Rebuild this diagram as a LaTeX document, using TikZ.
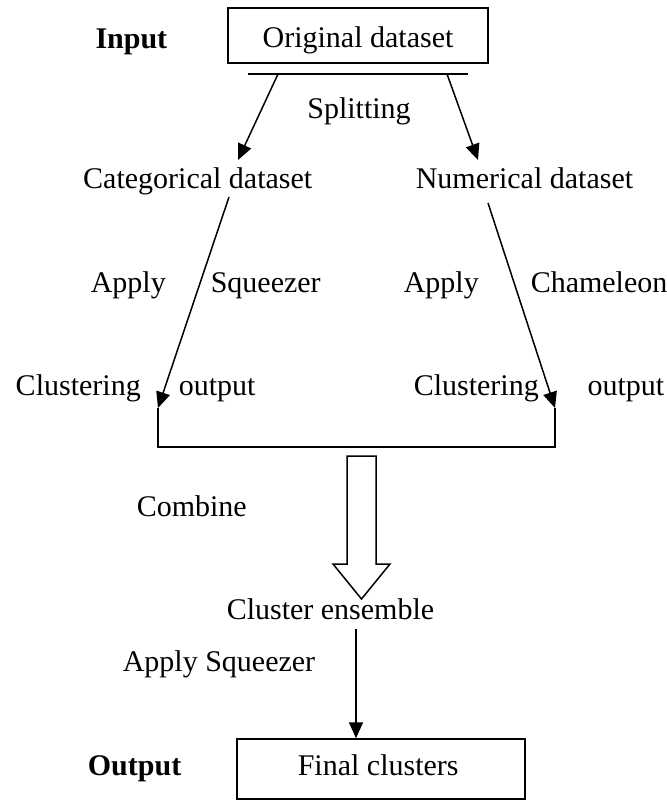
\documentclass[tikz,border=0pt]{standalone}
\usepackage{fontspec}
\setmainfont{Liberation Serif}
\usetikzlibrary{arrows.meta}
\begin{document}
\begin{tikzpicture}[x=1pt,y=-1pt,line width=1.5pt,
  lbl/.style={font=\fontsize{30}{36}\selectfont,inner sep=0pt},
  boldlbl/.style={lbl,font=\fontsize{30}{36}\selectfont\bfseries},
  bx/.style={draw,lbl,line width=1.5pt},
  arr/.style={-{Triangle[length=16pt,width=14pt]}}]
\useasboundingbox (0,0) rectangle (667,801);

% boxes
\node[bx,minimum width=260pt,minimum height=55pt] (orig) at (358,35.5) {};
\node[lbl,anchor=base] (origt) at (358,47) {Original dataset};
\node[bx,minimum width=288pt,minimum height=60pt] (fin) at (381,769) {};
\node[lbl,anchor=base west] (fint) at (297,775) {Final clusters};

% labels
\node[boldlbl,anchor=base east] (inp) at (168,48) {Input};
\node[boldlbl,anchor=base east] (outp) at (182,775) {Output};
\node[lbl,anchor=base] (split) at (359,118) {Splitting};
\node[lbl,anchor=base east] (cat) at (313,188) {Categorical dataset};
\node[lbl,anchor=base west] (num) at (415,188) {Numerical dataset};
\node[lbl,anchor=base west] (ap1) at (90,292) {Apply};
\node[lbl,anchor=base west] (sq1) at (210,292) {Squeezer};
\node[lbl,anchor=base west] (ap2) at (403,292) {Apply};
\node[lbl,anchor=base west] (cham) at (530,292) {Chameleon};
\node[lbl,anchor=base west] (cl1) at (15,395) {Clustering};
\node[lbl,anchor=base west] (ou1) at (178,395) {output};
\node[lbl,anchor=base west] (cl2) at (413,395) {Clustering};
\node[lbl,anchor=base east] (ou2) at (665,395) {output};
\node[lbl,anchor=base west] (comb) at (136,516) {Combine};
\node[lbl,anchor=base west] (ens) at (226,619) {Cluster ensemble};
\node[lbl,anchor=base west] (apsq) at (122,671) {Apply Squeezer};

% splitting bar and arrows
\coordinate (ul) at (248,74);
\coordinate (ur) at (468,74);
\draw (ul) -- (ur);
\coordinate (s1) at (278,74);
\coordinate (s2) at (447,74);
\coordinate (st1) at (238,160);
\coordinate (st2) at (478,160);
\draw[arr] (s1) -- (st1);
\draw[arr] (s2) -- (st2);

% clustering arrows
\coordinate (c1) at (229,197);
\coordinate (c2) at (488,203);
\coordinate (t1) at (158,408);
\coordinate (t2) at (555,408);
\draw[arr] (c1) -- (t1);
\draw[arr] (c2) -- (t2);
\coordinate (b1) at (158,447);
\coordinate (b2) at (555,447);
\draw (t1) -- (b1) -- (b2) -- (t2);

% combine hollow arrow
\draw[line width=1.5pt,line join=miter] (347,456) -- (376,456) -- (376,564) -- (390,564)
  -- (361.5,599) -- (333,564) -- (347,564) -- cycle;

% final arrow
\coordinate (e1) at (356,629);
\draw[arr] (e1) -- (e1 |- fin.north);
\end{tikzpicture}
\end{document}
